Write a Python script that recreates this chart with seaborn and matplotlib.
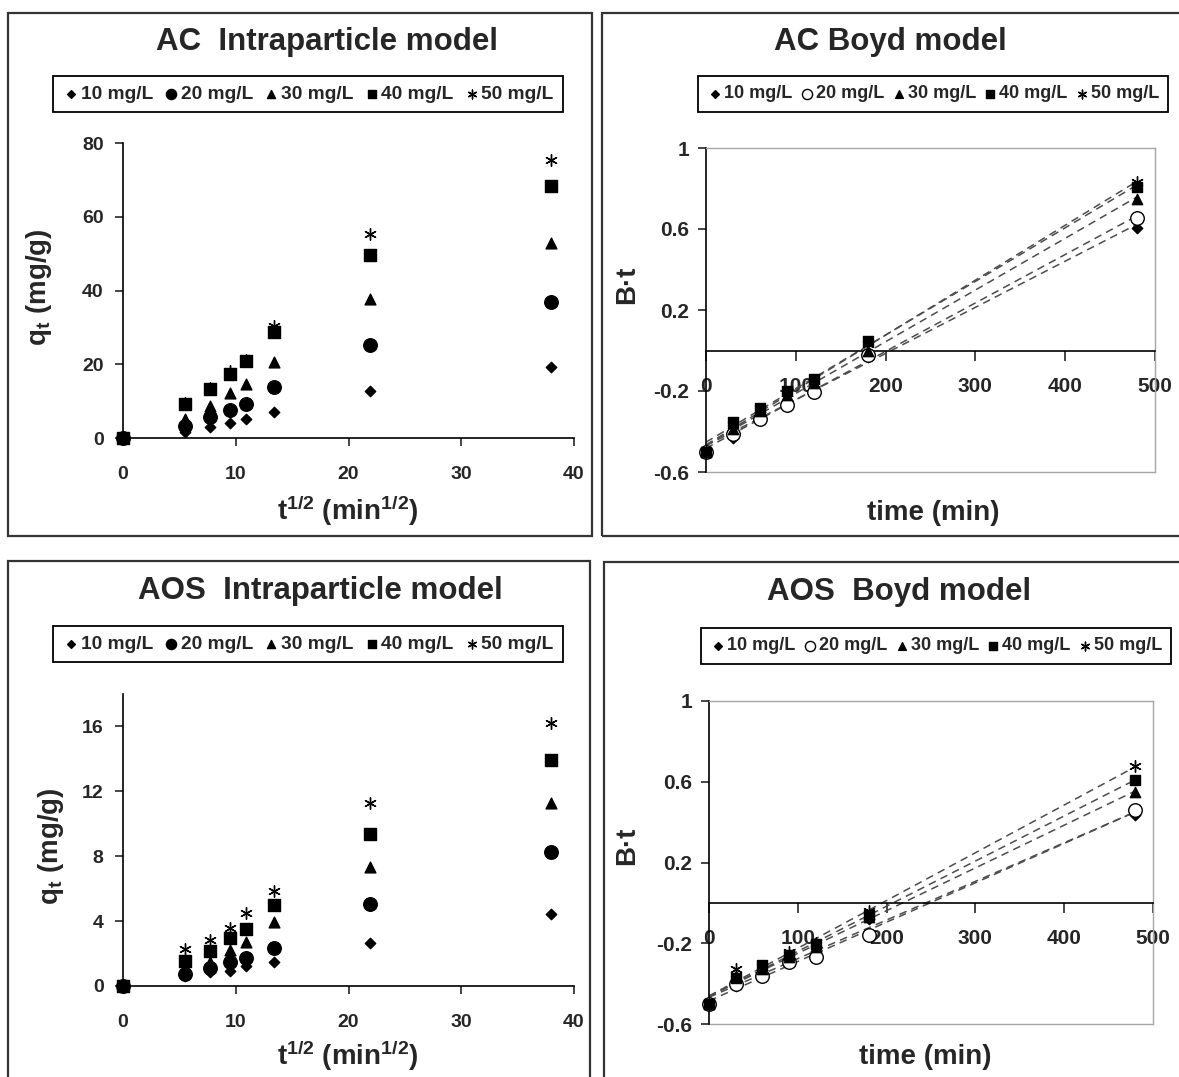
"""
AC / AOS kinetics: intraparticle diffusion and Boyd plots (2x2 panels)
"""

import numpy as np
import pandas as pd
import matplotlib
matplotlib.use("Agg")
import matplotlib.pyplot as plt
import seaborn as sns
from matplotlib.patches import Rectangle

W, H = 1179, 1077

conc_labels = ["10 mg/L", "20 mg/L", "30 mg/L", "40 mg/L", "50 mg/L"]

# intraparticle model, x = t^1/2 (min^1/2)
sqrt_t = [0, 5.48, 7.75, 9.49, 10.95, 13.42, 21.91, 37.95]
ac_q10 = [0, 1.5, 3.1, 4.2, 5.1, 7.1, 12.8, 19.2]
ac_q20 = [0, 3.3, 5.8, 7.6, 9.2, 13.9, 25.2, 36.9]
ac_q30 = [0, 5.1, 8.7, 12.3, 14.7, 20.7, 37.7, 52.8]
ac_q40 = [0, 9.2, 13.3, 17.3, 20.9, 28.7, 49.6, 68.3]
ac_q50 = [0, 9.4, 13.5, 18.2, 21.2, 30.3, 55.4, 75.4]

aos_q10 = [0, 0.6, 0.88, 0.95, 1.23, 1.46, 2.67, 4.42]
aos_q20 = [0, 0.74, 1.13, 1.5, 1.7, 2.33, 5.06, 8.25]
aos_q30 = [0, 1.1, 1.5, 2.22, 2.7, 3.93, 7.33, 11.28]
aos_q40 = [0, 1.56, 2.18, 2.94, 3.5, 4.98, 9.38, 13.95]
aos_q50 = [0, 2.3, 2.84, 3.6, 4.53, 5.88, 11.26, 16.2]

# Boyd model, x = time (min)
time_min = [0, 30, 60, 90, 120, 180, 480]
ac_bt10 = [-0.50, -0.43, -0.32, -0.25, -0.18, -0.03, 0.605]
ac_bt20 = [-0.50, -0.41, -0.337, -0.267, -0.204, -0.02, 0.655]
ac_bt30 = [-0.50, -0.39, -0.30, -0.22, -0.16, 0.0, 0.75]
ac_bt40 = [-0.50, -0.354, -0.283, -0.20, -0.143, 0.046, 0.806]
ac_bt50 = [-0.50, -0.37, -0.29, -0.21, -0.15, 0.03, 0.83]

aos_bt10 = [-0.50, -0.41, -0.35, -0.29, -0.24, -0.08, 0.434]
aos_bt20 = [-0.50, -0.40, -0.36, -0.295, -0.27, -0.16, 0.459]
aos_bt30 = [-0.50, -0.36, -0.33, -0.27, -0.22, -0.07, 0.55]
aos_bt40 = [-0.50, -0.37, -0.31, -0.26, -0.205, -0.06, 0.607]
aos_bt50 = [-0.50, -0.33, -0.32, -0.245, -0.20, -0.04, 0.677]

intra_xticks = [0, 10, 20, 30, 40]
ac_q_yticks = [0, 20, 40, 60, 80]
aos_q_yticks = [0, 4, 8, 12, 16]
boyd_xticks = [0, 100, 200, 300, 400, 500]
boyd_yticks = [-0.6, -0.2, 0.2, 0.6, 1.0]
boyd_ytick_labels = ["-0.6", "-0.2", "0.2", "0.6", "1"]

sns.set_theme(style="white")
plt.rcParams["font.family"] = ["Liberation Sans", "DejaVu Sans"]
plt.rcParams["font.weight"] = "bold"
plt.rcParams["axes.unicode_minus"] = False
plt.rcParams["mathtext.fontset"] = "custom"
plt.rcParams["mathtext.rm"] = "Liberation Sans:bold"
plt.rcParams["mathtext.it"] = "Liberation Sans:bold"
plt.rcParams["mathtext.bf"] = "Liberation Sans:bold"

fig = plt.figure(figsize=(W / 100, H / 100), dpi=100)


def px_axes(left, top, right, bottom):
    return fig.add_axes([left / W, 1 - bottom / H, (right - left) / W, (bottom - top) / H])


def border(left, top, right, bottom):
    fig.patches.append(Rectangle((left / W, 1 - bottom / H), (right - left) / W, (bottom - top) / H,
                                 transform=fig.transFigure, fill=False, edgecolor="#333333", lw=1.6))


# marker styles per concentration (intra / boyd)
markers = ["D", "o", "^", "s", (6, 2, 0)]
intra_sizes = [28, 95, 60, 70, 70]
boyd_sizes = [28, 95, 55, 60, 70]


def draw_points(ax, x, series, sizes, open_circle):
    for i, y in enumerate(series):
        face = "white" if (open_circle and i == 1) else "black"
        sns.scatterplot(x=x, y=y, marker=markers[i], s=sizes[i], color=face,
                        edgecolor="black", linewidth=1.0, ax=ax, label=conc_labels[i],
                        clip_on=False, zorder=3)


def add_legend(ax, xpx, ypx, loc, size=13.8, colsp=0.5):
    handles, labels = ax.get_legend_handles_labels()
    ax.legend(handles, labels, loc=loc, bbox_to_anchor=(xpx / W, 1 - ypx / H),
              bbox_transform=fig.transFigure, ncol=5, frameon=True, fancybox=False,
              edgecolor="black", framealpha=1, handletextpad=0.05, columnspacing=colsp,
              handlelength=0.9, borderpad=0.5, markerscale=0.75,
              prop={"weight": "bold", "size": size})
    ax.get_legend().get_frame().set_linewidth(1.3)


def style_intra(ax, ylim, yticks):
    ax.set_xlim(0, 40)
    ax.set_ylim(*ylim)
    ax.set_xticks(intra_xticks)
    ax.set_yticks(yticks)
    sns.despine(ax=ax)
    for s in ["left", "bottom"]:
        ax.spines[s].set_color("black")
        ax.spines[s].set_linewidth(1.2)
    ax.tick_params(axis="x", direction="out", length=6, width=1.2, pad=14, labelsize=14, bottom=True)
    ax.tick_params(axis="y", direction="out", length=6, width=1.2, pad=8, labelsize=14, left=True)
    ax.set_xlabel("")
    ax.set_ylabel("")


def style_boyd(ax):
    ax.set_xlim(0, 500)
    ax.set_ylim(-0.6, 1.0)
    ax.set_xticks(boyd_xticks)
    ax.set_yticks(boyd_yticks)
    ax.set_yticklabels(boyd_ytick_labels)
    ax.spines["bottom"].set_position(("data", 0))
    ax.spines["bottom"].set_color("black")
    ax.spines["left"].set_color("black")
    ax.spines["left"].set_linewidth(1.2)
    ax.spines["bottom"].set_linewidth(1.2)
    for s in ["top", "right"]:
        ax.spines[s].set_color("0.65")
        ax.spines[s].set_linewidth(1.0)
    ax.axhline(-0.6, color="0.65", lw=1.0, clip_on=False, zorder=0)
    ax.tick_params(axis="x", direction="out", length=7, width=1.2, pad=12, labelsize=15, bottom=True)
    ax.tick_params(axis="y", direction="out", length=6, width=1.2, pad=6, labelsize=15, left=True)
    ax.set_xlabel("")
    ax.set_ylabel("")


def boyd_lines(ax, series):
    for y in series:
        sns.regplot(x=time_min, y=y, scatter=False, ci=None, truncate=True, ax=ax,
                    color="0.3", line_kws={"linestyle": (0, (5, 3.5)), "lw": 1.1, "zorder": 2})


# panel frames
border(8, 13, 592, 536)
border(602, 13, 1190, 536)
border(8, 561, 590, 1090)
border(604, 562, 1190, 1090)

# AC intraparticle
ax1 = px_axes(123, 143, 574, 438)
draw_points(ax1, sqrt_t, [ac_q10, ac_q20, ac_q30, ac_q40, ac_q50], intra_sizes, False)
style_intra(ax1, (0, 80), ac_q_yticks)
add_legend(ax1, 308, 94, "center")

# AC Boyd
ax2 = px_axes(706, 148, 1155, 472)
ac_bt = [ac_bt10, ac_bt20, ac_bt30, ac_bt40, ac_bt50]
boyd_lines(ax2, ac_bt)
draw_points(ax2, time_min, ac_bt, boyd_sizes, True)
style_boyd(ax2)
add_legend(ax2, 689, 94, "center left", size=13.0, colsp=0.35)

# AOS intraparticle
ax3 = px_axes(123, 694, 574, 986)
draw_points(ax3, sqrt_t, [aos_q10, aos_q20, aos_q30, aos_q40, aos_q50], intra_sizes, False)
style_intra(ax3, (0, 18), aos_q_yticks)
add_legend(ax3, 308, 644, "center")

# AOS Boyd
ax4 = px_axes(709, 701, 1153, 1024)
aos_bt = [aos_bt10, aos_bt20, aos_bt30, aos_bt40, aos_bt50]
boyd_lines(ax4, aos_bt)
draw_points(ax4, time_min, aos_bt, boyd_sizes, True)
style_boyd(ax4)
add_legend(ax4, 692, 646, "center left", size=13.0, colsp=0.35)

# titles and axis labels
title_kw = dict(ha="center", va="center", fontsize=22.5, fontweight="bold")
fig.text(327 / W, 1 - 42 / H, "AC  Intraparticle model", **title_kw)
fig.text(890 / W, 1 - 42 / H, "AC Boyd model", **title_kw)
fig.text(320 / W, 1 - 591 / H, "AOS  Intraparticle model", **title_kw)
fig.text(899 / W, 1 - 592 / H, "AOS  Boyd model", **title_kw)

lab_kw = dict(ha="center", va="center", fontsize=20, fontweight="bold")
fig.text(39 / W, 1 - 287 / H, "q$_{t}$ (mg/g)", rotation=90, **lab_kw)
fig.text(51 / W, 1 - 846 / H, "q$_{t}$ (mg/g)", rotation=90, **lab_kw)
fig.text(348 / W, 1 - 511 / H, "t$^{1/2}$ (min$^{1/2}$)", **lab_kw)
fig.text(348 / W, 1 - 1056 / H, "t$^{1/2}$ (min$^{1/2}$)", **lab_kw)
fig.text(627 / W, 1 - 285 / H, "B·t", rotation=90, **lab_kw)
fig.text(627 / W, 1 - 846 / H, "B·t", rotation=90, **lab_kw)
fig.text(933 / W, 1 - 513 / H, "time (min)", **lab_kw)
fig.text(925 / W, 1 - 1057 / H, "time (min)", **lab_kw)

fig.savefig("out.png", dpi=100)
